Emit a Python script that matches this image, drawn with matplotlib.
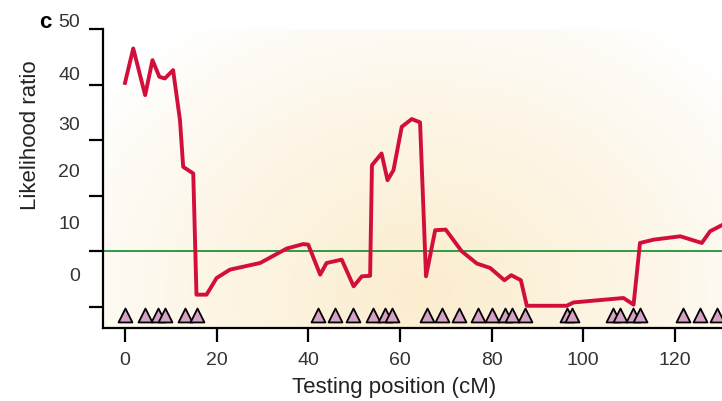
import numpy as np
import matplotlib.pyplot as plt

# likelihood ratio profile along the chromosome
position = [0, 1.8, 4.4, 6.0, 7.5, 8.7, 10.5, 12.0, 12.7, 14.9, 15.6, 17.8,
            20.0, 22.9, 29.5, 35.3, 38.9, 40.0, 42.6, 44.0, 47.3, 49.9, 51.7,
            53.5, 53.9, 56.0, 57.3, 58.6, 60.4, 62.6, 64.4, 65.7, 67.7, 70.0,
            73.5, 76.8, 79.7, 82.8, 84.3, 86.4, 87.7, 96.4, 97.9, 108.8, 111.0,
            112.4, 115.4, 121.2, 125.9, 127.7, 130.5]
likelihood = [40.3, 46.5, 38.1, 44.4, 41.4, 41.1, 42.6, 33.6, 25.2, 24.0, 2.2, 2.2,
              5.2, 6.7, 7.9, 10.5, 11.3, 11.2, 5.8, 7.9, 8.5, 3.7, 5.5,
              5.6, 25.5, 27.6, 22.8, 24.6, 32.4, 33.8, 33.2, 5.5, 13.8, 13.9,
              10.0, 7.8, 7.0, 4.8, 5.7, 4.8, 0.2, 0.2, 0.8, 1.6, 0.4,
              11.5, 12.1, 12.7, 11.5, 13.6, 14.8]

# genetic markers (cM)
markers = [0, 4.4, 7.2, 8.7, 13.1, 15.7,
           42.1, 45.9, 49.8, 54.1, 56.8, 58.3,
           65.9, 69.2, 72.9, 77.1, 80.1, 83.0, 84.5, 87.3,
           96.5, 97.6,
           106.6, 108.1, 110.9, 112.4,
           121.8, 125.5, 129.3]

threshold = 10
xticks = [0, 20, 40, 60, 80, 100, 120]
yticks = [0, 10, 20, 30, 40, 50]
ytick_labels = ["0", "10", "20", "30", "40", "50"]

plt.rcParams['font.family'] = ['Liberation Sans', 'DejaVu Sans']

fig = plt.figure(figsize=(7.22, 4.01), dpi=100)
ax = fig.add_axes([103/722, 1 - 328/401, 1 - 103/722, (328 - 29)/401])

# soft cream glow behind the plot
gx, gy = np.meshgrid(np.linspace(0, 1, 400), np.linspace(0, 1, 200))
r = np.sqrt(((gx - 0.52)/0.65)**2 + ((gy - 0.12)/1.1)**2)
w = np.clip(1 - r, 0, 1)**0.9
cream = np.array([251, 237, 206])/255
img = (1 - w[..., None]) + cream*w[..., None]
ax.imshow(img, extent=[0, 1, 0, 1], transform=ax.transAxes, origin='lower',
          aspect='auto', zorder=0)

ax.axhline(threshold, color='#2f9a44', lw=1.4, zorder=2)
ax.plot(position, likelihood, color='#d20f3b', lw=2.8, zorder=3)
ax.scatter(markers, [0.043]*len(markers), transform=ax.get_xaxis_transform(),
           marker='^', s=100, facecolor='#d6a2c6', edgecolor='black',
           linewidths=1.3, zorder=4, clip_on=False)

ax.set_xlim(-4.8, 130.3)
ax.set_ylim(-3.8, 50)

for s in ['top', 'right']:
    ax.spines[s].set_visible(False)
for s in ['left', 'bottom']:
    ax.spines[s].set_linewidth(1.6)

ax.set_xticks(xticks)
ax.set_yticks(yticks)
ax.set_yticklabels([])
ax.tick_params(direction='out', length=10, width=1.6, labelsize=14,
               labelcolor='#333333', pad=7)

# y labels sit a bit off their ticks in the original
ylabel_y = [5.4, 14.8, 24.1, 32.6, 41.6, 51.1]
for lab, yy in zip(ytick_labels, ylabel_y):
    ax.text(-0.037, yy, lab, transform=ax.get_yaxis_transform(), ha='right',
            va='center', fontsize=14, color='#333333', clip_on=False)

ax.set_xlabel('Testing position (cM)', fontsize=16, color='#222222')
ax.xaxis.set_label_coords(0.47, -0.165)
ax.set_ylabel('Likelihood ratio', fontsize=16, color='#222222')
ax.yaxis.set_label_coords(-0.1, 0.645)

fig.text(45/722, 1 - 22/401, 'c', fontsize=16, fontweight='bold',
         ha='center', va='center')

fig.savefig('out.png', dpi=100)
